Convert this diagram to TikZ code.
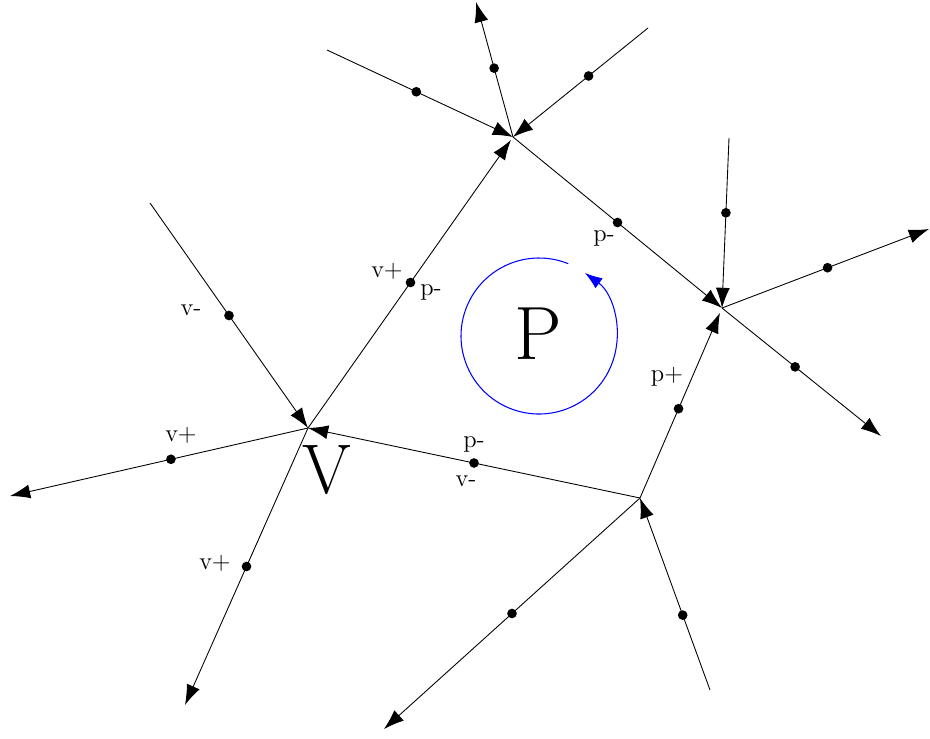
\documentclass[tikz,border=0pt]{standalone}
\usetikzlibrary{arrows.meta}
\tikzset{
  edg/.style={-{Latex[length=11.5pt,width=8pt]},line width=0.5pt},
  mdot/.style={circle,fill,inner sep=0pt,minimum size=5.5pt},
  lbl/.style={font=\fontsize{14}{16}\selectfont,inner sep=0pt},
  bigl/.style={font=\fontsize{40}{44}\selectfont,inner sep=0pt},
  rot/.style={-{Latex[length=10pt,width=7pt]},blue,line width=0.6pt}
}
\begin{document}
\begin{tikzpicture}[x=0.02cm,y=-0.02cm]
  \useasboundingbox (0,0) rectangle (930,738);
  % vertices of the face
  \coordinate (V) at (308,428);
  \coordinate (T) at (513,137);
  \coordinate (R) at (722,308);
  \coordinate (B) at (640,498);
  % loose ends
  \coordinate (v1) at (150,203);
  \coordinate (v2) at (10,496);
  \coordinate (v3) at (185,705);
  \coordinate (t1) at (327,50);
  \coordinate (t2) at (476,2);
  \coordinate (t3) at (648,28);
  \coordinate (r1) at (729,138);
  \coordinate (r2) at (929,229);
  \coordinate (r3) at (881,436);
  \coordinate (b1) at (710,690);
  \coordinate (b2) at (384,729);

  % face edges
  \draw[edg,shorten >=2pt] (V) -- node[mdot,pos=0.5] (m1) {} (T);
  \draw[edg] (T) -- node[mdot,pos=0.5] (m2) {} (R);
  \draw[edg,shorten >=3pt] (B) -- node[mdot,pos=0.47] (m3) {} (R);
  \draw[edg] (B) -- node[mdot,pos=0.5] (m4) {} (V);

  % outer edges
  \draw[edg] (v1) -- node[mdot,pos=0.5] (d1) {} (V);
  \draw[edg] (V) -- node[mdot,pos=0.46] (d2) {} (v2);
  \draw[edg] (V) -- node[mdot,pos=0.5] (d3) {} (v3);
  \draw[edg] (t1) -- node[mdot,pos=0.48] (d4) {} (T);
  \draw[edg] (T) -- node[mdot,pos=0.51] (d5) {} (t2);
  \draw[edg] (t3) -- node[mdot,pos=0.44] (d6) {} (T);
  \draw[edg] (r1) -- node[mdot,pos=0.44] (d7) {} (R);
  \draw[edg] (R) -- node[mdot,pos=0.51] (d8) {} (r2);
  \draw[edg] (R) -- node[mdot,pos=0.46] (d9) {} (r3);
  \draw[edg] (b1) -- node[mdot,pos=0.39] (d10) {} (B);
  \draw[edg] (B) -- node[mdot,pos=0.5] (d11) {} (b2);

  % labels
  \node[lbl] (l1) at (387,271) {v+};
  \node[lbl] (l2) at (431,292) {p-};
  \node[lbl] (l3) at (604,238) {p-};
  \node[lbl] (l4) at (667,377) {p+};
  \node[lbl] (l5) at (474,444) {p-};
  \node[lbl] (l6) at (466,481) {v-};
  \node[lbl] (l7) at (191,310) {v-};
  \node[lbl] (l8) at (181,435) {v+};
  \node[lbl] (l9) at (215,563) {v+};

  \node[bigl,font=\fontsize{43}{46}\selectfont] (P) at (538,334) {P};
  \node[bigl] (Vl) at (327,470) {V};
  \draw[rot] (539,336) ++(68:1.56cm) arc[start angle=68,end angle=414,radius=1.56cm];
\end{tikzpicture}
\end{document}
